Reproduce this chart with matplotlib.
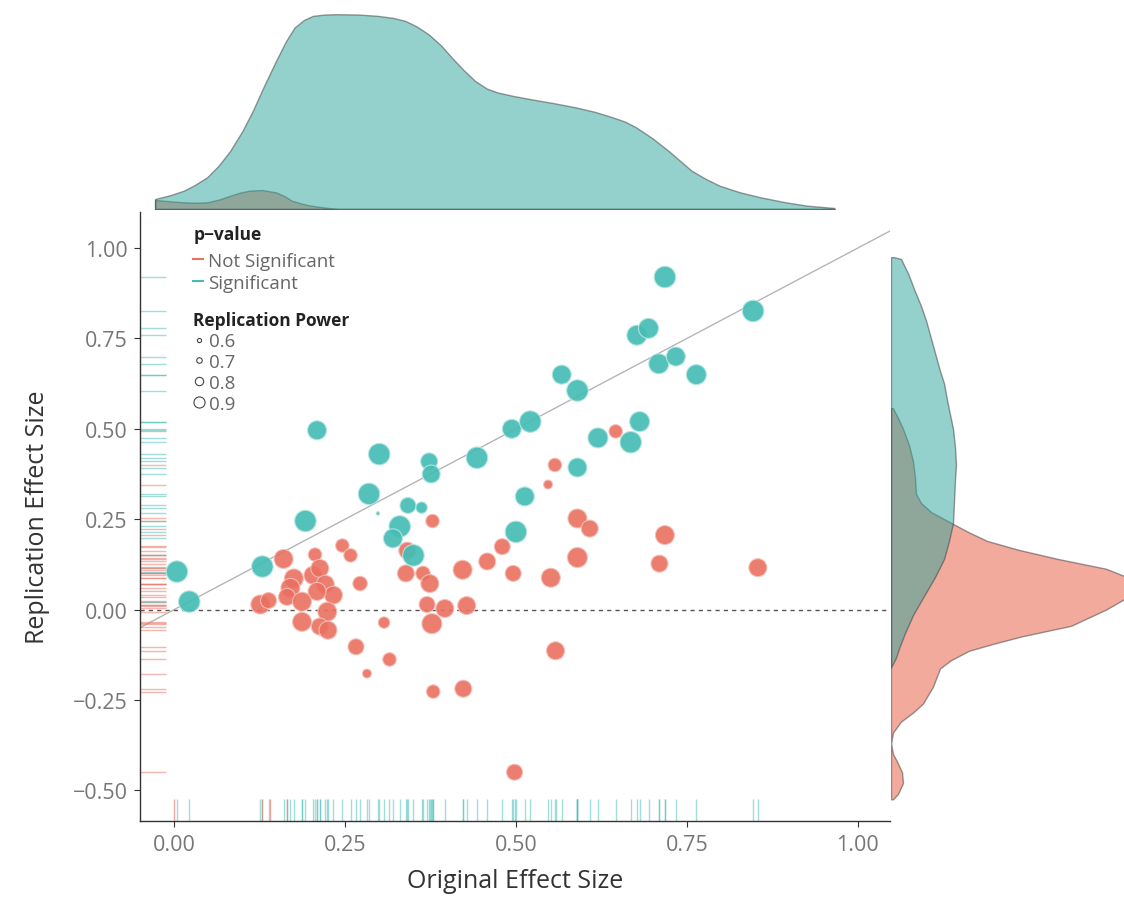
import matplotlib
matplotlib.use('Agg')
import matplotlib.pyplot as plt
from matplotlib.lines import Line2D
from matplotlib.ticker import FuncFormatter
import numpy as np

plt.rcParams['font.family'] = ['Open Sans', 'DejaVu Sans']

# significant replications: original effect, replication effect, replication power
sig_orig = [0.004, 0.022, 0.129, 0.192, 0.209, 0.300, 0.285, 0.373, 0.376, 0.443,
            0.494, 0.521, 0.342, 0.362, 0.513, 0.330, 0.320, 0.350, 0.500, 0.567,
            0.590, 0.590, 0.620, 0.668, 0.681, 0.677, 0.694, 0.709, 0.734, 0.764,
            0.718, 0.847, 0.298]
sig_rep = [0.105, 0.022, 0.119, 0.245, 0.496, 0.430, 0.320, 0.410, 0.375, 0.420,
           0.500, 0.520, 0.288, 0.282, 0.313, 0.230, 0.197, 0.150, 0.215, 0.650,
           0.606, 0.393, 0.475, 0.463, 0.520, 0.759, 0.778, 0.680, 0.700, 0.650,
           0.920, 0.826, 0.266]
sig_power = [0.93, 0.93, 0.93, 0.93, 0.88, 0.93, 0.93, 0.84, 0.86, 0.93,
             0.88, 0.93, 0.82, 0.73, 0.88, 0.93, 0.88, 0.93, 0.93, 0.88,
             0.93, 0.88, 0.90, 0.93, 0.90, 0.90, 0.90, 0.90, 0.88, 0.90,
             0.93, 0.93, 0.57]

# not significant replications
ns_orig = [0.378, 0.160, 0.206, 0.246, 0.258, 0.175, 0.170, 0.165, 0.126, 0.138,
           0.203, 0.213, 0.221, 0.233, 0.209, 0.187, 0.187, 0.224, 0.213, 0.225,
           0.272, 0.266, 0.282, 0.315, 0.307, 0.339, 0.364, 0.374, 0.370, 0.396,
           0.377, 0.379, 0.423, 0.422, 0.428, 0.458, 0.480, 0.496, 0.498, 0.341,
           0.590, 0.608, 0.718, 0.710, 0.854, 0.590, 0.551, 0.558, 0.646, 0.557,
           0.547]
ns_rep = [0.245, 0.140, 0.152, 0.177, 0.150, 0.086, 0.060, 0.035, 0.014, 0.025,
          0.095, 0.114, 0.070, 0.040, 0.050, 0.022, -0.034, -0.006, -0.047, -0.057,
          0.072, -0.103, -0.177, -0.138, -0.036, 0.100, 0.100, 0.072, 0.014, 0.003,
          -0.039, -0.227, -0.219, 0.110, 0.011, 0.133, 0.174, 0.100, -0.450, 0.163,
          0.252, 0.224, 0.206, 0.127, 0.116, 0.144, 0.088, -0.114, 0.493, 0.400,
          0.346]
ns_power = [0.77, 0.88, 0.77, 0.77, 0.77, 0.88, 0.88, 0.84, 0.88, 0.82,
            0.86, 0.86, 0.86, 0.86, 0.86, 0.88, 0.88, 0.88, 0.84, 0.86,
            0.79, 0.82, 0.68, 0.77, 0.73, 0.84, 0.79, 0.86, 0.82, 0.86,
            0.90, 0.77, 0.84, 0.88, 0.86, 0.84, 0.82, 0.82, 0.82, 0.84,
            0.88, 0.84, 0.88, 0.84, 0.86, 0.90, 0.88, 0.86, 0.77, 0.77,
            0.68]

# red ticks seen on the bottom rug
rug_orig_ns = [0.0, 0.128, 0.140, 0.165]

# top marginal density of original effect size
top_x = [-0.028, -0.005, 0.014, 0.030, 0.048, 0.065, 0.082, 0.100, 0.115, 0.132,
         0.149, 0.163, 0.176, 0.190, 0.203, 0.220, 0.237, 0.270, 0.298, 0.320,
         0.338, 0.355, 0.372, 0.390, 0.406, 0.423, 0.440, 0.457, 0.473, 0.495,
         0.521, 0.555, 0.588, 0.615, 0.642, 0.660, 0.676, 0.700, 0.723, 0.740,
         0.757, 0.778, 0.798, 0.828, 0.858, 0.895, 0.926, 0.966]
top_sig = [30, 42, 55, 72, 95, 130, 175, 235, 295, 372,
           445, 502, 545, 568, 580, 584, 585, 584, 580, 574,
           565, 548, 525, 492, 455, 418, 385, 362, 350, 340,
           330, 318, 305, 292, 275, 262, 245, 212, 175, 145,
           115, 90, 70, 50, 35, 20, 10, 3]
top_ns_x = [-0.028, -0.005, 0.014, 0.030, 0.048, 0.065, 0.082, 0.096, 0.110, 0.128,
            0.149, 0.162, 0.172, 0.185, 0.195, 0.207, 0.218, 0.230, 0.240, 0.966]
top_ns = [27, 23, 20, 19, 20, 28, 40, 49, 55, 57,
          50, 38, 25, 17, 12, 8, 5, 2, 0, 0]

# right marginal density of replication effect size
right_sig_y = [0.975, 0.970, 0.930, 0.880, 0.840, 0.800, 0.750, 0.700, 0.660, 0.626,
               0.580, 0.540, 0.500, 0.450, 0.400, 0.360, 0.300, 0.240, 0.190, 0.140,
               0.090, 0.033, -0.015, -0.065, -0.100, -0.133, -0.160]
right_sig = [3, 10, 17, 24, 30, 35, 40, 45, 49, 53,
             56, 59, 62, 64, 65, 64, 63, 62, 58, 53,
             44, 32, 22, 14, 9, 5, 0]
right_ns_y = [0.557, 0.530, 0.500, 0.455, 0.410, 0.365, 0.320, 0.295, 0.270, 0.240,
              0.215, 0.190, 0.165, 0.140, 0.113, 0.090, 0.060, 0.030, 0.000, -0.045,
              -0.074, -0.095, -0.114, -0.140, -0.163, -0.213, -0.260, -0.285, -0.310,
              -0.340, -0.370, -0.400, -0.420, -0.450, -0.480, -0.510, -0.525]
right_ns = [2, 7, 12, 18, 22, 24, 25, 30, 40, 60,
            77, 96, 128, 167, 215, 236, 242, 234, 215, 180,
            131, 102, 78, 60, 49, 42, 32, 22, 10,
            2, 0, 2, 6, 11, 12, 7, 2]

TEAL = '#45bdb5'
RED = '#ea7061'
TEAL_FILL = '#2da59a'
RED_FILL = '#e5573a'


def power_to_area(p):
    d_px = (np.asarray(p) - 0.5) * 50.0
    return (d_px * 0.72) ** 2


def minus_fmt(v, pos):
    return ('%.2f' % v).replace('-', '\u2212')


fig = plt.figure(figsize=(11.24, 9.04), dpi=100)
ax = fig.add_axes([0.1246, 0.0907, 0.667, 0.6737])
ax_top = fig.add_axes([0.1246, 0.7677, 0.667, 0.221], sharex=ax)
ax_right = fig.add_axes([0.7927, 0.0907, 0.2073, 0.6737], sharey=ax)

# main scatter
ax.axline((0, 0), slope=1, color='#b5b5b5', lw=1, zorder=1)
ax.axhline(0, color='#555555', lw=1, ls=(0, (3, 3)), zorder=1)
ax.scatter(ns_orig, ns_rep, s=power_to_area(ns_power), color=RED, alpha=0.9,
           edgecolors='#f4c0b8', linewidths=0.8, zorder=3)
ax.scatter(sig_orig, sig_rep, s=power_to_area(sig_power), color=TEAL, alpha=0.92,
           edgecolors='#b7e6e2', linewidths=0.8, zorder=3)

# rugs
ax.hlines(ns_rep, 0, 0.034, transform=ax.get_yaxis_transform(), color=RED, alpha=0.5, lw=1)
ax.hlines(sig_rep, 0, 0.034, transform=ax.get_yaxis_transform(), color=TEAL, alpha=0.5, lw=1)
ax.vlines(sig_orig + ns_orig, 0, 0.036, transform=ax.get_xaxis_transform(), color=TEAL, alpha=0.5, lw=1)
ax.vlines(rug_orig_ns, 0, 0.036, transform=ax.get_xaxis_transform(), color=RED, alpha=0.6, lw=1)

ax.set_xlim(-0.05, 1.047)
ax.set_ylim(-0.585, 1.1)
ax.set_xticks([0, 0.25, 0.5, 0.75, 1.0])
ax.set_yticks([-0.5, -0.25, 0, 0.25, 0.5, 0.75, 1.0])
ax.xaxis.set_major_formatter(FuncFormatter(minus_fmt))
ax.yaxis.set_major_formatter(FuncFormatter(minus_fmt))
for side in ['top', 'right']:
    ax.spines[side].set_visible(False)
for side in ['left', 'bottom']:
    ax.spines[side].set_color('#333333')
    ax.spines[side].set_linewidth(1)
ax.tick_params(length=4, color='#333333', labelcolor='#777777', labelsize=15.5, pad=5)
ax.set_xlabel('Original Effect Size', fontsize=18, color='#333333', labelpad=10)
ax.set_ylabel('Replication Effect Size', fontsize=18, color='#333333', labelpad=16)

# legends
h1 = [Line2D([], [], color=RED, lw=1.5), Line2D([], [], color=TEAL, lw=1.5)]
leg1 = ax.legend(h1, ['Not Significant', 'Significant'], title='p\u2212value',
                 loc='upper left', bbox_to_anchor=(0.071, 0.978), frameon=False,
                 handlelength=0.5, handletextpad=0.3, labelspacing=0.22,
                 fontsize=13.5, borderpad=0, borderaxespad=0, alignment='left',
                 title_fontproperties={'weight': 'bold', 'size': 12.5})
leg1.get_title().set_color('#222222')
leg1._legend_box.sep = 6
for t in leg1.get_texts():
    t.set_color('#666666')
ax.add_artist(leg1)

power_levels = ['0.6', '0.7', '0.8', '0.9']
legend_ms = [3.0, 4.0, 6.0, 8.0]
h2 = [Line2D([], [], ls='none', marker='o', markerfacecolor='none',
             markeredgecolor='#444444', markeredgewidth=0.8, markersize=m) for m in legend_ms]
leg2 = ax.legend(h2, power_levels, title='Replication Power',
                 loc='upper left', bbox_to_anchor=(0.071, 0.837), frameon=False,
                 handlelength=0.6, handletextpad=0.25, labelspacing=0.15,
                 fontsize=13.5, borderpad=0, borderaxespad=0, alignment='left',
                 title_fontproperties={'weight': 'bold', 'size': 12.5})
leg2.get_title().set_color('#222222')
for t in leg2.get_texts():
    t.set_color('#666666')

# top marginal
ax_top.fill_between(top_ns_x, 0, top_ns, facecolor=RED_FILL, alpha=0.5,
                    edgecolor='#3a3a3a', lw=1)
ax_top.fill_between(top_x, 0, top_sig, facecolor=TEAL_FILL, alpha=0.5,
                    edgecolor='#3a3a3a', lw=1)
ax_top.set_ylim(0, 600)
ax_top.axis('off')

# right marginal
ax_right.fill_betweenx(right_ns_y, 0, right_ns, facecolor=RED_FILL, alpha=0.5,
                       edgecolor='#3a3a3a', lw=1)
ax_right.fill_betweenx(right_sig_y, 0, right_sig, facecolor=TEAL_FILL, alpha=0.5,
                       edgecolor='#3a3a3a', lw=1)
ax_right.set_xlim(0, 233)
ax_right.axis('off')

fig.savefig('out.png', dpi=100)
